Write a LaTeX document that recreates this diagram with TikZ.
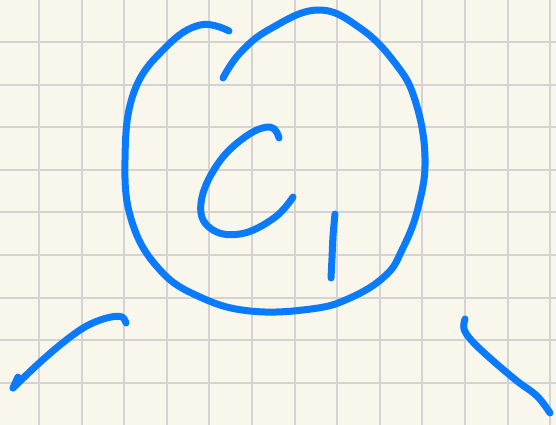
\documentclass[tikz,border=0pt]{standalone}
\usepackage{xcolor}
\usepackage{tikz}
\definecolor{penblue}{HTML}{0A7BFF}
\definecolor{paper}{HTML}{F9F7EC}
\definecolor{gridgrey}{HTML}{D3D3D3}

\begin{document}
\begin{tikzpicture}[x=1pt, y=-1pt,
  pen/.style={draw=penblue, line width=7pt, line cap=round, line join=round},
  gridline/.style={draw=gridgrey, line width=2pt}]
\useasboundingbox[fill=paper] (0,0) rectangle (556,425);
% squared paper
\foreach \k in {0,...,12} {
  \draw[gridline] ({39+42.6*\k},0) -- ({39+42.6*\k},425);
}
\foreach \k in {0,...,9} {
  \draw[gridline] (0,{-0.6+42.6*\k}) -- (556,{-0.6+42.6*\k});
}
% the circle
\draw[pen] plot[smooth, tension=0.7] coordinates {
  (223,78) (240,53) (270,29) (318,10) (360,28) (395,63) (415,100)
  (425,157) (418,208) (402,250) (385,276) (350,298) (311,309) (250,311)
  (200,297) (160,270) (132,222) (125,160) (134,92) (166,47) (200,25)
  (229,31)};
% C
\draw[pen] plot[smooth, tension=0.7] coordinates {
  (293,197) (274,218) (240,234) (210,228) (201,203) (217,165) (245,137)
  (270,127) (279,138)};
% 1
\draw[pen] plot[smooth, tension=0.6] coordinates {
  (335,214) (333,236) (332,258) (331,278)};
% left line
\draw[pen] plot[smooth, tension=0.6] coordinates {
  (126,323) (122,317) (111,317) (95,322) (80,330) (60,345) (37,365) (13,388)};
\draw[pen] (13,388) -- (18,377);
% right line
\draw[pen] plot[smooth, tension=0.6] coordinates {
  (465,319) (464,329) (472,341) (491,359) (517,381) (537,396) (550,413)};
\end{tikzpicture}
\end{document}
